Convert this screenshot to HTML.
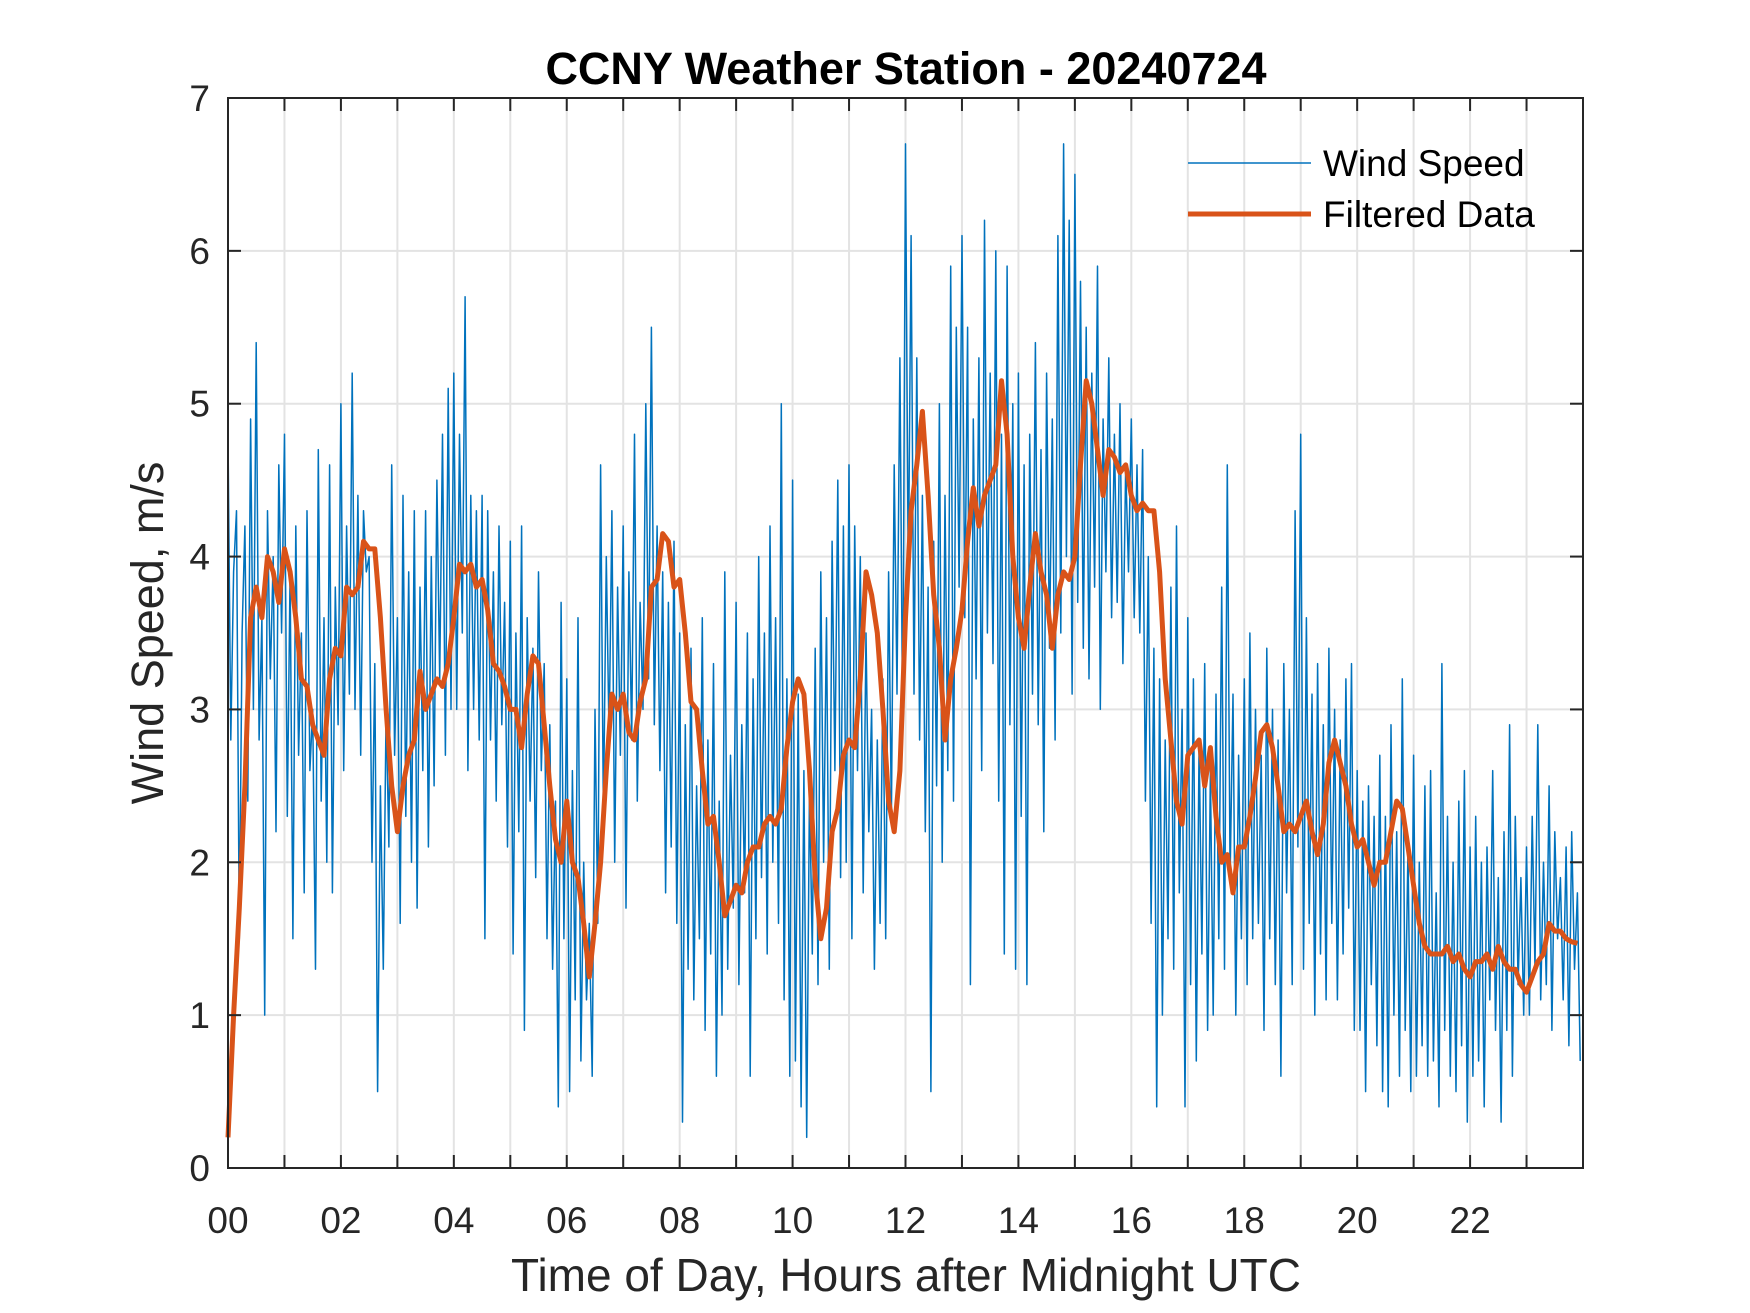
<!DOCTYPE html>
<html><head><meta charset="utf-8"><style>
html,body{margin:0;padding:0;background:#fff}
svg{display:block;font-family:"Liberation Sans",Arial,sans-serif}
</style></head><body>
<svg id="chart" width="1750" height="1313" viewBox="0 0 1750 1313" xmlns="http://www.w3.org/2000/svg">
<rect width="1750" height="1313" fill="#fff"/>
<text x="906" y="84" text-anchor="middle" font-size="45" font-weight="bold" fill="#000">CCNY Weather Station - 20240724</text>
<g id="grid"></g>
<g id="series"></g>
<rect x="228" y="98" width="1355" height="1070" fill="none" stroke="#262626" stroke-width="2"/>
<g id="ticks"></g>
<text transform="translate(163,633) rotate(-90)" text-anchor="middle" font-size="45" fill="#262626">Wind Speed, m/s</text>
<text x="906" y="1291" text-anchor="middle" font-size="46" fill="#262626">Time of Day, Hours after Midnight UTC</text>
<g>
<line x1="1188" y1="163" x2="1311" y2="163" stroke="#0072BD" stroke-width="1.5"/>
<text x="1323" y="176" font-size="37" fill="#000">Wind Speed</text>
<line x1="1188" y1="214" x2="1311" y2="214" stroke="#D95319" stroke-width="5"/>
<text x="1323" y="227" font-size="37" fill="#000">Filtered Data</text>
</g>
</svg>
<script>
const xTickLabels=["00","02","04","06","08","10","12","14","16","18","20","22"];
const yTickLabels=["0","1","2","3","4","5","6","7"];
const windStep=0.05;
const windSpeed=[
4.8,2.8,3.9,4.3,1.5,3.5,4.2,2.4,4.9,3.0,5.4,2.8,3.6,1.0,4.3,3.2,4.0,2.2,4.6,3.5,
4.8,2.3,3.9,1.5,4.2,2.7,3.5,1.8,4.3,2.6,3.0,1.3,4.7,2.4,3.6,2.0,4.6,1.8,3.8,2.9,
5.0,2.6,4.2,3.1,5.2,3.0,4.4,2.7,4.3,3.9,4.0,2.0,3.3,0.5,2.5,1.3,3.0,2.1,4.6,2.7,
3.6,1.6,4.4,2.3,3.9,2.0,4.3,1.7,3.8,2.6,4.3,2.1,4.0,2.5,4.5,3.2,4.8,2.7,5.1,3.0,
5.2,3.0,4.8,3.5,5.7,2.6,4.4,3.0,4.3,2.8,4.4,1.5,4.3,2.8,3.9,2.4,4.2,2.9,3.7,2.1,
4.1,1.4,3.5,2.2,4.2,0.9,3.6,2.4,3.4,1.9,3.9,2.6,3.3,1.5,2.9,1.3,2.4,0.4,3.7,1.5,
3.2,0.5,2.6,1.1,3.6,0.7,2.0,1.1,1.6,0.6,3.0,1.6,4.6,2.3,4.0,2.8,4.3,2.0,3.8,2.7,
4.2,1.7,3.9,2.8,4.8,2.4,3.7,3.0,5.0,3.2,5.5,2.9,4.2,2.6,3.9,1.8,3.7,2.1,4.1,1.6,
3.5,0.3,2.9,1.3,3.4,1.1,2.5,1.5,3.6,0.9,2.8,1.4,3.3,0.6,2.4,1.0,3.9,1.3,2.7,1.7,
3.7,1.2,2.9,1.8,3.5,0.6,3.2,1.5,4.0,1.9,3.5,1.4,4.2,2.0,3.6,1.6,5.0,1.1,3.2,0.6,
4.5,0.7,3.1,0.4,2.6,0.2,2.5,1.4,3.4,1.2,3.9,2.0,3.6,1.3,4.1,2.6,4.5,1.9,4.2,2.0,
4.6,1.5,4.2,2.6,4.0,1.8,3.5,2.2,3.0,1.3,2.8,1.6,3.2,1.5,3.9,2.3,4.6,3.1,5.3,2.8,
6.7,3.8,6.1,3.1,5.3,2.8,4.4,2.2,3.8,0.5,4.1,2.5,5.0,2.0,4.4,2.6,5.9,2.4,5.5,3.8,
6.1,3.6,5.5,1.2,4.9,3.2,5.3,2.6,6.2,3.5,5.2,3.3,6.0,2.4,4.8,1.4,5.9,2.9,5.0,1.3,
5.2,2.3,4.6,1.2,4.8,3.1,5.4,2.9,4.7,2.2,5.2,3.4,4.9,2.8,6.1,3.5,6.7,4.0,6.2,3.1,
6.5,3.7,5.8,3.4,5.5,3.2,5.2,3.8,5.9,3.0,4.9,3.9,5.3,3.6,4.8,3.7,5.0,3.3,4.6,3.9,
4.9,3.6,4.6,3.5,4.7,2.4,4.0,1.6,3.4,0.4,3.2,1.0,2.8,1.5,3.8,1.3,4.2,1.8,3.0,0.4,
3.6,1.2,3.2,0.7,2.8,1.4,3.3,0.9,2.6,1.0,3.1,1.5,3.8,1.3,4.6,1.9,3.1,1.0,2.7,1.5,
3.2,1.2,3.5,1.5,3.0,1.6,2.7,0.9,3.4,1.5,3.0,1.2,2.8,0.6,3.3,1.8,3.0,1.2,4.3,2.1,
4.8,1.3,3.6,1.6,3.1,1.0,3.3,1.4,2.9,1.1,3.4,1.6,3.0,1.1,2.8,1.4,3.2,1.7,3.3,0.9,
2.6,0.9,2.4,0.5,2.5,1.2,2.3,0.8,2.7,0.5,2.3,0.4,2.9,1.0,2.2,0.6,3.2,0.9,2.1,0.5,
2.7,0.6,2.0,0.8,2.5,0.6,2.6,0.7,1.8,0.4,3.3,0.9,2.3,0.6,2.0,0.5,2.4,0.8,2.6,0.3,
2.1,0.6,2.3,0.7,2.0,0.4,2.1,1.1,2.6,0.9,1.9,0.3,2.2,0.9,2.9,0.6,2.3,1.2,1.9,1.0,
2.1,1.0,2.3,1.3,2.9,1.1,2.0,1.2,2.5,0.9,2.2,1.5,1.9,1.1,2.1,0.8,2.2,1.3,1.8,0.7
];
const filtStep=0.1;
const filtered=[
0.2,1.0,1.7,2.5,3.6,3.8,3.6,4.0,3.9,3.7,4.05,3.9,3.6,3.2,3.15,2.9,2.8,2.7,3.2,3.4,
3.35,3.8,3.75,3.8,4.1,4.05,4.05,3.6,3.0,2.5,2.2,2.5,2.7,2.8,3.25,3.0,3.1,3.2,3.15,3.3,
3.6,3.95,3.9,3.95,3.8,3.85,3.65,3.3,3.25,3.15,3.0,3.0,2.75,3.1,3.35,3.3,2.9,2.5,2.15,2.0,
2.4,2.0,1.9,1.6,1.25,1.6,2.0,2.6,3.1,3.0,3.1,2.85,2.8,3.05,3.2,3.8,3.85,4.15,4.1,3.8,
3.85,3.5,3.05,3.0,2.6,2.25,2.3,2.0,1.65,1.75,1.85,1.8,2.0,2.1,2.1,2.25,2.3,2.25,2.35,2.75,
3.05,3.2,3.1,2.6,1.9,1.5,1.7,2.2,2.35,2.7,2.8,2.75,3.2,3.9,3.75,3.5,3.0,2.4,2.2,2.6,
3.6,4.3,4.6,4.95,4.4,3.75,3.4,2.8,3.2,3.4,3.65,4.1,4.45,4.2,4.4,4.5,4.6,5.15,4.8,4.0,
3.6,3.4,3.8,4.15,3.9,3.75,3.4,3.75,3.9,3.85,4.0,4.6,5.15,5.0,4.7,4.4,4.7,4.65,4.55,4.6,
4.4,4.3,4.35,4.3,4.3,3.9,3.2,2.8,2.4,2.25,2.7,2.75,2.8,2.5,2.75,2.3,2.0,2.05,1.8,2.1,
2.1,2.3,2.55,2.85,2.9,2.75,2.5,2.2,2.25,2.2,2.3,2.4,2.2,2.05,2.25,2.65,2.8,2.65,2.5,2.25,
2.1,2.15,2.0,1.85,2.0,2.0,2.2,2.4,2.35,2.1,1.85,1.6,1.45,1.4,1.4,1.4,1.45,1.35,1.4,1.3,
1.25,1.35,1.35,1.4,1.3,1.45,1.35,1.3,1.3,1.2,1.15,1.25,1.35,1.4,1.6,1.55,1.55,1.5,1.48,1.47
];
const L=228,R=1583,T=98,B=1168,XMAX=24,YMAX=7;
const xs=h=>L+(R-L)*h/XMAX;
const ys=v=>B-(B-T)*v/YMAX;
const NS="http://www.w3.org/2000/svg";
function mk(tag,attrs,parent){const e=document.createElementNS(NS,tag);for(const k in attrs)e.setAttribute(k,attrs[k]);parent.appendChild(e);return e;}
const grid=document.getElementById('grid'),ticks=document.getElementById('ticks'),series=document.getElementById('series');
for(let h=1;h<24;h++){
 const g=mk('line',{x1:xs(h),x2:xs(h),y1:T,y2:B,stroke:'#e3e3e3','stroke-width':2},grid);
 
 
 const t1=mk('line',{x1:xs(h),x2:xs(h),y1:B,y2:B-13,stroke:'#262626','stroke-width':2},ticks);
 
 
 const t2=mk('line',{x1:xs(h),x2:xs(h),y1:T,y2:T+13,stroke:'#262626','stroke-width':2},ticks);
 
 
}
xTickLabels.forEach((lab,i)=>{
 const t=mk('text',{x:xs(i*2),y:1233,'text-anchor':'middle','font-size':37,fill:'#262626'},ticks);
 t.textContent=lab;
 
 
});
yTickLabels.forEach((lab,i)=>{
 const v=+lab;
 if(v>0&&v<YMAX){
  const g=mk('line',{x1:L,x2:R,y1:ys(v),y2:ys(v),stroke:'#e3e3e3','stroke-width':2},grid);
  
  
  const a=mk('line',{x1:L,x2:L+13,y1:ys(v),y2:ys(v),stroke:'#262626','stroke-width':2},ticks);
  
  
  const b=mk('line',{x1:R-13,x2:R,y1:ys(v),y2:ys(v),stroke:'#262626','stroke-width':2},ticks);
  
  
 }
 const t=mk('text',{x:210,y:ys(v)+13,'text-anchor':'end','font-size':37,fill:'#262626'},ticks);
 t.textContent=lab;
 
 
});
const wp=windSpeed.map((v,i)=>xs(Math.min(i*windStep,XMAX)).toFixed(1)+','+ys(v).toFixed(1)).join(' ');
const w=mk('polyline',{points:wp,fill:'none',stroke:'#0072BD','stroke-width':1.5,'stroke-linejoin':'round'},series);


const fp=filtered.map((v,i)=>xs(Math.min(i*filtStep,XMAX)).toFixed(1)+','+ys(v).toFixed(1)).join(' ');
const f=mk('polyline',{points:fp,fill:'none',stroke:'#D95319','stroke-width':5,'stroke-linejoin':'round'},series);


</script>
</body></html>
